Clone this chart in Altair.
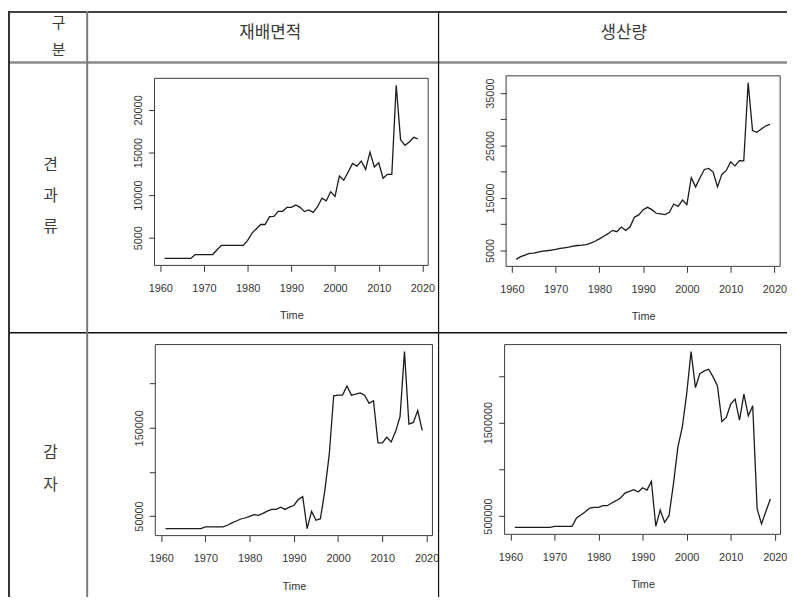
import altair as alt
import pandas as pd

# ---------------- data ----------------
years = list(range(1961, 2020))

nut_area = [2560, 2560, 2560, 2560, 2560, 2560, 2560,
            3020, 3020, 3020, 3020, 3020,
            3580, 4100, 4100, 4100, 4100, 4100, 4100,
            4690, 5540, 6050, 6550, 6550, 7480, 7500, 8100, 8100, 8560,
            8560, 8840, 8560, 8060, 8250, 7980, 8640, 9650, 9340, 10390,
            9850, 12250, 11750, 12710, 13720, 13400, 14000, 13020, 15040, 13300,
            13800, 11980, 12440, 12440, 22900, 16510, 15850, 16240, 16780, 16590]

nut_prod = [3305, 3810, 4120, 4430, 4500, 4690, 4880, 4940, 5060,
            5190, 5380, 5500, 5630, 5820, 5940, 6000, 6130, 6380, 6760,
            7200, 7700, 8200, 8830, 8580, 9460, 8830, 9460, 11340, 11780,
            12780, 13220, 12780, 12090, 11970, 11840, 12280, 13850, 13410, 14600,
            13730, 18870, 17120, 18870, 20440, 20630, 19940, 17120, 19500, 20250,
            21890, 21130, 22140, 22070, 36950, 27850, 27540, 28160, 28730, 29040]

potato_area = [35820, 35820, 35820, 35820, 35820, 35820, 35820, 35820, 35820,
               37690, 37690, 37690, 37690, 37690,
               39550, 42160, 44400, 46640, 47760,
               49630, 51490, 50750, 52990, 55600, 57460, 57460, 60070, 57460, 60070,
               61940, 68660, 72010, 35820, 55220, 45150, 47010, 78730, 119780, 186190,
               186940, 186940, 197390, 186940, 188060, 189550, 186940, 177610, 180600, 132840,
               132840, 139180, 133960, 145900, 162690, 236190, 154100, 155970, 169400, 147010]

potato_prod = [378900, 378900, 378900, 378900, 378900, 378900, 378900, 378900, 378900,
               389600, 389600, 389600, 389600, 389600,
               478600, 510700, 546300, 585500, 592600,
               592600, 610400, 610400, 638900, 663800, 692300, 745700, 763500, 781300, 756400,
               802700, 777800, 870400, 389600, 564100, 432300, 503600, 841900, 1233600, 1447300,
               1803400, 2259300, 1874600, 2024200, 2052700, 2070500, 1988600, 1892400, 1511400, 1554100,
               1696600, 1750000, 1525600, 1803400, 1571900, 1678800, 574800, 414500, 549900, 681600]

x_ticks = [1960, 1970, 1980, 1990, 2000, 2010, 2020]
nut_area_ticks = [5000, 10000, 15000, 20000]
nut_area_shown = [5000, 10000, 15000, 20000]
nut_prod_ticks = [5000, 10000, 15000, 20000, 25000, 30000, 35000]
nut_prod_shown = [5000, 15000, 25000, 35000]
potato_area_ticks = [50000, 100000, 150000, 200000]
potato_area_shown = [50000, 150000]
potato_prod_ticks = [500000, 1000000, 1500000, 2000000]
potato_prod_shown = [500000, 1500000]

corner_label = "구분"
row_labels = ["견과류", "감자"]
col_labels = ["재배면적", "생산량"]
x_title = "Time"

# ---------------- layout ----------------
W, H = 787, 592
FONT = "Liberation Sans"
KFONT = "Noto Sans CJK KR"
AX = "#333333"
TS = 11


def panel(values, yticks, shown, xr, yr):
    df = pd.DataFrame({"Time": years, "v": values})
    lo, hi = min(values), max(values)
    pad = 0.04 * (hi - lo)
    ydom = [lo - pad, hi + pad]
    xpad = 0.04 * (years[-1] - years[0])
    xdom = [years[0] - xpad, years[-1] + xpad]
    xs = alt.Scale(domain=xdom, range=xr, nice=False, zero=False)
    ys = alt.Scale(domain=ydom, range=yr, nice=False, zero=False)
    expr = ("indexof([" + ",".join(str(v) for v in shown) +
            "], datum.value) >= 0 ? datum.label : ''")
    xaxis = alt.Axis(orient="bottom", offset=yr[0] - H, values=x_ticks, format="d",
                     title=x_title, grid=False, domain=False, tickSize=6, tickColor=AX,
                     labelFont=FONT, labelFontSize=TS, labelColor=AX, labelPadding=11,
                     labelFlush=False, labelOverlap=False, titleFont=FONT,
                     titleFontSize=TS, titleFontWeight="normal", titleColor=AX,
                     titlePadding=17)
    yaxis = alt.Axis(orient="left", offset=-xr[0], values=yticks, format="d",
                     labelExpr=expr, grid=False, domain=False, tickSize=6, tickColor=AX,
                     labelFont=FONT, labelFontSize=TS, labelColor=AX, labelPadding=7,
                     labelAngle=270, labelAlign="center", labelBaseline="alphabetic",
                     labelFlush=False, labelOverlap=False)
    line = alt.Chart(df).mark_line(color="#1a1a1a", strokeWidth=1.3).encode(
        x=alt.X("Time:Q", scale=xs, axis=xaxis),
        y=alt.Y("v:Q", scale=ys, axis=yaxis, title=None),
    )
    fdf = pd.DataFrame({"x0": [xdom[0]], "x1": [xdom[1]], "y0": [ydom[0]], "y1": [ydom[1]]})
    frame = alt.Chart(fdf).mark_rect(fillOpacity=0, stroke="#3a3a3a", strokeWidth=1).encode(
        x=alt.X("x0:Q", scale=xs, axis=None),
        x2="x1:Q",
        y=alt.Y("y0:Q", scale=ys, axis=None),
        y2="y1:Q",
    )
    return [frame, line]


one = pd.DataFrame({"k": [0]})


def hline(y, color, width):
    return alt.Chart(one).mark_rule(color=color, strokeWidth=width).encode(
        x=alt.value(0), x2=alt.value(W), y=alt.value(y))


def vline(x, color, width):
    return alt.Chart(one).mark_rule(color=color, strokeWidth=width).encode(
        x=alt.value(x), y=alt.value(0), y2=alt.value(H))


def label(text, x, y, size, lh):
    # y is the centre of the first line; further lines go below it
    d = pd.DataFrame({"t": ["\n".join(list(text)) if lh else text]})
    return alt.Chart(d).mark_text(font=KFONT, fontSize=size, color="#3a3a3a",
                                  lineBreak="\n", lineHeight=lh or size,
                                  align="center", baseline="middle").encode(
        x=alt.value(x), y=alt.value(y), text="t:N")


decor = [
    hline(1, "#444444", 2),
    hline(52, "#8a8a8a", 2.5),
    hline(325, "#111111", 1.5),
    vline(1, "#333333", 2),
    vline(80, "#777777", 2),
    vline(435, "#111111", 1.2),
    label(corner_label, 51, 12, 15, 27),
    label(col_labels[0], 265, 22, 17, 0),
    label(col_labels[1], 622, 22, 17, 0),
    label(row_labels[0], 43, 156, 16, 31),
    label(row_labels[1], 43, 447, 16, 32),
]

panels = (
    panel(nut_area, nut_area_ticks, nut_area_shown, [148, 424.5], [257, 68])
    + panel(nut_prod, nut_prod_ticks, nut_prod_shown, [503.2, 780.1], [258, 65.5])
    + panel(potato_area, potato_area_ticks, potato_area_shown, [148.8, 428.8], [530, 337])
    + panel(potato_prod, potato_prod_ticks, potato_prod_shown, [501.7, 780.5], [528.7, 337])
)

chart = alt.layer(*decor, *panels).resolve_scale(
    x="independent", y="independent"
).resolve_axis(
    x="independent", y="independent"
).properties(
    width=W, height=H, padding=0,
    autosize=alt.AutoSizeParams(type="none"),
).configure_view(strokeWidth=0)

chart.save("out.html", embed_options={"renderer": "svg", "actions": False})
